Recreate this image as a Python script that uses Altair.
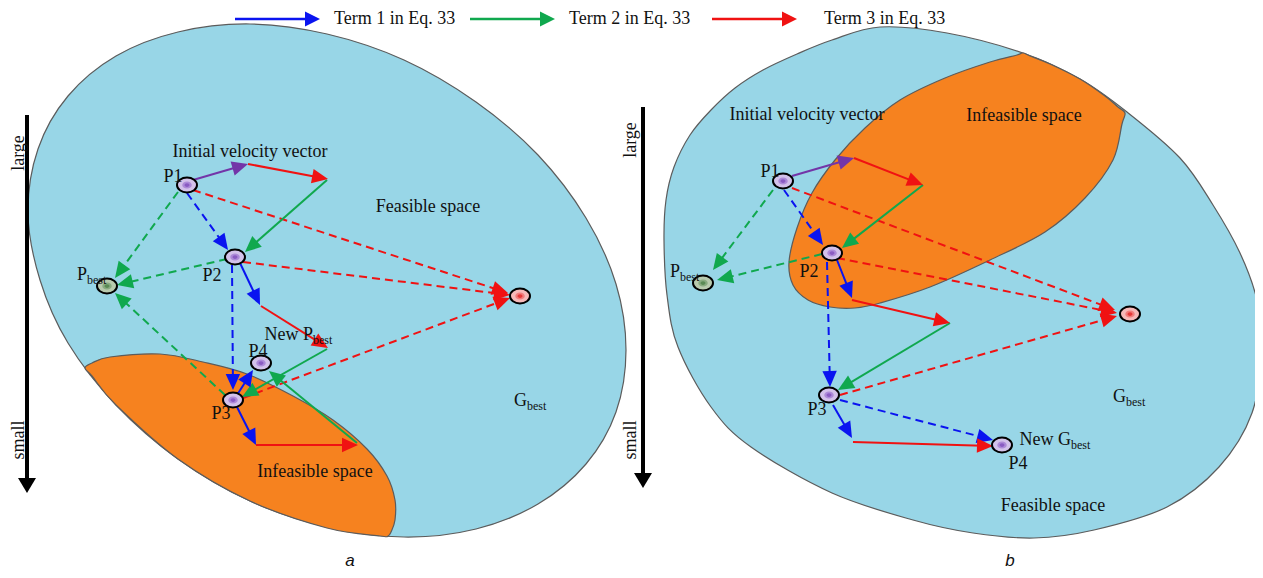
import math
import altair as alt
import pandas as pd

# ---------------- colours ----------------
BLUE = "#0a14f0"
GREEN = "#10a84e"
RED = "#f01212"
PURPLE = "#7335a8"
SKY = "#98d6e7"
ORANGE = "#f6821f"

# ---------------- regions (boundary points, px) ----------------
feas_a_x = [626, 616, 586, 538, 476, 404, 327, 250, 178, 116, 68, 40, 28, 38, 68, 116, 178, 250, 327, 404, 476, 538, 586, 616]
feas_a_y = [350, 412, 464, 504, 529, 537, 527, 501, 459, 405, 343, 280, 213, 149, 96, 56, 32, 24, 34, 60, 102, 155, 218, 284]

infeas_a_x = [85, 92, 110, 160, 203, 247, 293, 333, 367, 387, 395, 395, 391, 388, 380, 327, 250, 178, 116, 92]
infeas_a_y = [368, 363, 357, 354, 362, 374, 396, 420, 449, 476, 500, 520, 532, 536, 536, 528, 501, 459, 405, 376]

feas_b_x = [664, 666, 674, 690, 711, 735, 763, 797, 832, 880, 947, 1023, 1080, 1127, 1180, 1213, 1240, 1257, 1262, 1252, 1219, 1167, 1094, 1034, 973, 913, 832, 751, 711, 678, 667]
feas_b_y = [240, 200, 167, 135, 110, 88, 70, 54, 40, 27, 33, 53, 79, 112, 158, 205, 253, 300, 347, 413, 467, 507, 530, 538, 533, 520, 493, 447, 407, 347, 295]

infeas_b_x = [1023, 1030, 1050, 1080, 1105, 1118, 1125, 1122, 1113, 1085, 1045, 990, 930, 880, 855, 830, 808, 793, 789, 797, 812, 835, 865, 900, 945, 990, 1017]
infeas_b_y = [53, 56, 64, 79, 96, 107, 113, 124, 160, 198, 232, 260, 287, 303, 308, 307, 300, 285, 262, 228, 193, 160, 128, 100, 78, 62, 55]

# ---------------- arrows (tail x, tail y, tip x, tip y) ----------------
arrow_x1 = [193, 248, 327, 187, 178, 193, 227, 243, 240, 261, 327, 232, 225, 243, 237, 256, 357, 237,
            792, 854, 923, 784, 773, 792, 822, 837, 837, 852, 950, 827, 840, 840, 833, 853]
arrow_y1 = [180, 164, 180, 193, 192, 190, 259, 262, 263, 306, 349, 265, 395, 398, 407, 445, 443, 395,
            176, 158, 185, 190, 190, 188, 254, 258, 260, 300, 323, 262, 395, 400, 405, 442]
arrow_x2 = [248, 328, 245, 228, 115, 508, 117, 510, 260, 328, 242, 233, 115, 510, 256, 358, 269, 253,
            854, 923, 842, 823, 713, 1115, 717, 1117, 852, 950, 838, 830, 1117, 993, 852, 993]
arrow_y2 = [164, 179, 252, 250, 278, 293, 285, 295, 305, 348, 397, 390, 293, 298, 445, 445, 371, 370,
            158, 185, 248, 245, 270, 310, 280, 313, 298, 323, 390, 387, 316, 440, 438, 446]
arrow_color = [PURPLE, RED, GREEN, BLUE, GREEN, RED, GREEN, RED, BLUE, RED, GREEN, BLUE, GREEN, RED, BLUE, RED, GREEN, BLUE,
               PURPLE, RED, GREEN, BLUE, GREEN, RED, GREEN, RED, BLUE, RED, GREEN, BLUE, RED, BLUE, BLUE, RED]
arrow_dashed = [0, 0, 0, 1, 1, 1, 1, 1, 0, 0, 0, 1, 1, 1, 0, 0, 0, 0,
                0, 0, 0, 1, 1, 1, 1, 1, 0, 0, 0, 1, 1, 1, 0, 0]

# legend arrows
legend_x1 = [235, 470, 712]
legend_x2 = [320, 555, 797]
legend_y = [19, 19, 19]
legend_color = [BLUE, GREEN, RED]
legend_text = ["Term 1 in Eq. 33", "Term 2 in Eq. 33", "Term 3 in Eq. 33"]
legend_text_x = [334, 569, 824]

# ---------------- particles ----------------
part_x = [187, 235, 233, 261, 107, 520, 783, 832, 829, 1002, 703, 1130]
part_y = [185, 257, 400, 363, 286, 296, 181, 253, 395, 445, 283, 314]
part_kind = ["p", "p", "p", "p", "pb", "gb", "p", "p", "p", "p", "pb", "gb"]
kind_fill = {
    "p": ("#d3c2ea", "#ad8ad8", "#8a5cc2"),
    "pb": ("#b8caae", "#88ab80", "#5a8a55"),
    "gb": ("#f6b9b9", "#f27c7c", "#e63838"),
}

# ---------------- labels ----------------
label_text = ["Initial velocity vector", "Feasible space", "Infeasible space", "P1", "P2", "P3", "P4",
              "Initial velocity vector", "Infeasible space", "Feasible space", "P1", "P2", "P3", "P4"]
label_x = [250, 428, 315, 173, 212, 221, 258, 807, 1024, 1053, 770, 809, 817, 1018]
label_y = [152, 207, 472, 177, 276, 414, 352, 115, 116, 506, 172, 272, 410, 464]

sub_main = ["P", "New P", "G", "P", "New G", "G"]
sub_small = ["best", "best", "best", "best", "best", "best"]
sub_x = [87, 313, 527, 680, 1071, 1126]
sub_y = [275, 335, 401, 272, 440, 397]

rot_text = ["large", "small", "large", "small"]
rot_x = [19, 19, 631, 631]
rot_y = [153, 440, 140, 440]

axis_x = [27, 643]
axis_top = [115, 107]
axis_tip = [493, 488]

caption_text = ["a", "b"]
caption_x = [350, 1010]
caption_y = [561, 561]

# ---------------- scales / helpers ----------------
XS = alt.Scale(domain=[8, 1255], nice=False, zero=False)
YS = alt.Scale(domain=[8, 570], reverse=True, nice=False, zero=False)


def X(f):
    return alt.X(f"{f}:Q", scale=XS, axis=None)


def Y(f):
    return alt.Y(f"{f}:Q", scale=YS, axis=None)


HEAD = "M 0 0 L -2 -0.9 L -2 0.9 Z"
LEG_HEAD = "M 0 0 L -2 -1 L -2 1 Z"
BAR_HEAD = "M 0 0 L -2 -1.2 L -2 1.2 Z"
ELL = ("M 1 0 C 1 0.414 0.552 0.75 0 0.75 C -0.552 0.75 -1 0.414 -1 0 "
       "C -1 -0.414 -0.552 -0.75 0 -0.75 C 0.552 -0.75 1 -0.414 1 0 Z")


def region(xs, ys, fill):
    df = pd.DataFrame({"x": xs, "y": ys, "i": list(range(len(xs)))})
    return alt.Chart(df).mark_line(
        interpolate="cardinal-closed", fill=fill, stroke="#5c5c5c", strokeWidth=1.2
    ).encode(x=X("x"), y=Y("y"), order=alt.Order("i:Q"))


layers = [
    region(feas_a_x, feas_a_y, SKY),
    region(infeas_a_x, infeas_a_y, ORANGE),
    region(feas_b_x, feas_b_y, SKY),
    region(infeas_b_x, infeas_b_y, ORANGE),
]

# axis bars
ax_df = pd.DataFrame({"x": axis_x, "y": axis_top, "y2": [t - 12 for t in axis_tip], "tip": axis_tip})
layers.append(alt.Chart(ax_df).mark_rule(color="black", strokeWidth=4).encode(
    x=X("x"), y=Y("y"), y2=alt.Y2("y2:Q")))
layers.append(alt.Chart(ax_df).mark_point(shape=BAR_HEAD, size=225, filled=True, color="black",
                                          opacity=1, angle=90).encode(x=X("x"), y=Y("tip")))

# arrows
rows = []
for x1, y1, x2, y2, c, d in zip(arrow_x1, arrow_y1, arrow_x2, arrow_y2, arrow_color, arrow_dashed):
    L = math.hypot(x2 - x1, y2 - y1)
    ux, uy = (x2 - x1) / L, (y2 - y1) / L
    rows.append(dict(x1=x1, y1=y1, xe=x2 - 10 * ux, ye=y2 - 10 * uy, tx=x2, ty=y2,
                     ang=math.degrees(math.atan2(uy, ux)) % 360, col=c, dash=d))
adf = pd.DataFrame(rows)
layers.append(alt.Chart(adf[adf.dash == 1]).mark_rule(strokeWidth=2, strokeDash=[8, 5]).encode(
    x=X("x1"), y=Y("y1"), x2=alt.X2("xe:Q"), y2=alt.Y2("ye:Q"), color=alt.Color("col:N", scale=None)))
layers.append(alt.Chart(adf[adf.dash == 0]).mark_rule(strokeWidth=2).encode(
    x=X("x1"), y=Y("y1"), x2=alt.X2("xe:Q"), y2=alt.Y2("ye:Q"), color=alt.Color("col:N", scale=None)))
layers.append(alt.Chart(adf).mark_point(shape=HEAD, size=256, filled=True, opacity=1).encode(
    x=X("tx"), y=Y("ty"), color=alt.Color("col:N", scale=None), angle=alt.Angle("ang:Q", scale=None)))

# legend
ldf = pd.DataFrame({"x1": legend_x1, "xe": [v - 10 for v in legend_x2], "tx": legend_x2, "y": legend_y,
                    "col": legend_color, "t": legend_text, "txx": legend_text_x})
layers.append(alt.Chart(ldf).mark_rule(strokeWidth=2.5).encode(
    x=X("x1"), x2=alt.X2("xe:Q"), y=Y("y"), color=alt.Color("col:N", scale=None)))
layers.append(alt.Chart(ldf).mark_point(shape=LEG_HEAD, size=225, filled=True, opacity=1).encode(
    x=X("tx"), y=Y("y"), color=alt.Color("col:N", scale=None)))
layers.append(alt.Chart(ldf).mark_text(font="Liberation Serif", fontSize=18, align="left", baseline="middle",
                                       color="#111").encode(x=X("txx"), y=Y("y"), text="t:N"))

# particles
pdf = pd.DataFrame({"x": part_x, "y": part_y,
                    "f1": [kind_fill[k][0] for k in part_kind],
                    "f2": [kind_fill[k][1] for k in part_kind],
                    "f3": [kind_fill[k][2] for k in part_kind]})
layers.append(alt.Chart(pdf).mark_point(shape=ELL, size=400, filled=True, opacity=1, stroke="black",
                                        strokeWidth=2).encode(x=X("x"), y=Y("y"), fill=alt.Fill("f1:N", scale=None)))
layers.append(alt.Chart(pdf).mark_point(shape=ELL, size=90, filled=True, opacity=1).encode(
    x=X("x"), y=Y("y"), fill=alt.Fill("f2:N", scale=None)))
layers.append(alt.Chart(pdf).mark_point(shape=ELL, size=25, filled=True, opacity=1).encode(
    x=X("x"), y=Y("y"), fill=alt.Fill("f3:N", scale=None)))

# labels
tdf = pd.DataFrame({"t": label_text, "x": label_x, "y": label_y})
layers.append(alt.Chart(tdf).mark_text(font="Liberation Serif", fontSize=18, align="center", baseline="middle",
                                       color="#111").encode(x=X("x"), y=Y("y"), text="t:N"))
sdf = pd.DataFrame({"m": sub_main, "s": sub_small, "x": sub_x, "y": sub_y, "ys": [v + 5 for v in sub_y]})
layers.append(alt.Chart(sdf).mark_text(font="Liberation Serif", fontSize=18, align="right", baseline="middle",
                                       color="#111").encode(x=X("x"), y=Y("y"), text="m:N"))
layers.append(alt.Chart(sdf).mark_text(font="Liberation Serif", fontSize=12, align="left", baseline="middle",
                                       color="#111").encode(x=X("x"), y=Y("ys"), text="s:N"))
rdf = pd.DataFrame({"t": rot_text, "x": rot_x, "y": rot_y})
layers.append(alt.Chart(rdf).mark_text(font="Liberation Serif", fontSize=18, align="center", baseline="middle",
                                       angle=270, color="#111").encode(x=X("x"), y=Y("y"), text="t:N"))
cdf = pd.DataFrame({"t": caption_text, "x": caption_x, "y": caption_y})
layers.append(alt.Chart(cdf).mark_text(font="Liberation Sans", fontStyle="italic", fontSize=17, align="center",
                                       baseline="middle", color="#111").encode(x=X("x"), y=Y("y"), text="t:N"))

chart = alt.layer(*layers).properties(
    width=1247, height=562, padding=0, autosize="none"
).configure_view(stroke=None)

chart.save("out.html", embed_options={"renderer": "svg", "actions": False})
